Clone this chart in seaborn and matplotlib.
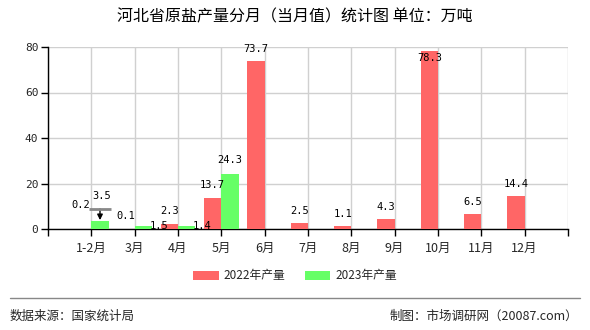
import numpy as np
import pandas as pd
import matplotlib
matplotlib.use("Agg")
import matplotlib.pyplot as plt
import seaborn as sns
from matplotlib.patches import Patch
from matplotlib.lines import Line2D

months = ["1-2月", "3月", "4月", "5月", "6月", "7月", "8月", "9月", "10月", "11月", "12月"]
vals_2022 = [0.2, 0.1, 2.3, 13.7, 73.7, 2.5, 1.1, 4.3, 78.3, 6.5, 14.4]
vals_2023 = [3.5, 1.5, 1.4, 24.3, None, None, None, None, None, None, None]
series = ["2022年产量", "2023年产量"]
colors = ["#FF6666", "#66FF66"]
yticks = [0, 20, 40, 60, 80]

title = "河北省原盐产量分月（当月值）统计图 单位：万吨"
source = "数据来源：国家统计局"
credit = "制图：市场调研网（20087.com）"

df = pd.DataFrame({
    "月份": months * 2,
    "产量": [np.nan if v is None else v for v in vals_2022 + vals_2023],
    "系列": [series[0]] * len(months) + [series[1]] * len(months),
})

sns.set_theme(style="white")
plt.rcParams["font.family"] = ["Noto Sans CJK SC", "DejaVu Sans"]

fig = plt.figure(figsize=(5.9, 3.3), dpi=100)
ax = fig.add_axes([48 / 590, 1 - 229 / 330, 520 / 590, 182 / 330])

sns.barplot(data=df, x="月份", y="产量", hue="系列", palette=colors,
            order=months, hue_order=series, width=0.8, ax=ax,
            saturation=1, legend=False, linewidth=0, zorder=3)

ax.set_xlim(-1, 11)
ax.set_ylim(0, 80)
ax.set_yticks(yticks)
ax.set_yticklabels([str(v) for v in yticks], family="DejaVu Sans Mono", fontsize=8)
ax.set_xticks(range(-1, 12))
ax.set_xticklabels([""] + months + [""], fontsize=9)
ax.set_xlabel("")
ax.set_ylabel("")
for s in ["top", "right"]:
    ax.spines[s].set_visible(False)
for s in ["left", "bottom"]:
    ax.spines[s].set_color("black")
    ax.spines[s].set_linewidth(1.0)
ax.tick_params(axis="both", which="both", direction="out", length=5, width=1,
               color="black", left=True, bottom=True, pad=2)
ax.tick_params(axis="x", pad=4)
ax.grid(True, color="#d0d0d0", linewidth=1, zorder=0)
ax.set_axisbelow(True)

# data labels (offsets in points)
label_offsets = {
    (0, 0): (-1.5, 17), (1, 0): (1.5, 18),
    (1, 1): (11, 0), (1, 2): (11, 0),
    (1, 3): (0, 10), (0, 8): (0, -5),
}
label_font = dict(family="DejaVu Sans Mono", fontsize=7.5, color="black")
for si, vals in enumerate([vals_2022, vals_2023]):
    for mi, v in enumerate(vals):
        if v is None:
            continue
        xc = mi - 0.2 + 0.4 * si
        dx, dy = label_offsets.get((si, mi), (0, 9))
        ax.annotate(f"{v:.1f}", (xc, v), xytext=(dx, dy), textcoords="offset points",
                    ha="center", va="center", **label_font, zorder=5)

# max marker on first 2023 value
xm = 0 + 0.2
top = vals_2023[0]
ax.annotate("", xy=(xm, top + 0.4), xytext=(xm, top + 5.3), xycoords="data",
            textcoords="data",
            arrowprops=dict(arrowstyle="-|>", color="black", lw=1, mutation_scale=8,
                            shrinkA=0, shrinkB=0), zorder=6)
ax.plot([xm - 0.25, xm + 0.25], [top + 5.3, top + 5.3],
        color="#888888", lw=2, zorder=6, solid_capstyle="butt")

fig.text(0.5, 1 - 17 / 330, title, ha="center", va="center", fontsize=11.5, color="black")

handles = [Patch(facecolor=c, edgecolor="none") for c in colors]
fig.legend(handles, series, loc="center", bbox_to_anchor=(0.5, 1 - 276 / 330), ncol=2,
           frameon=False, fontsize=8.5, handlelength=2.2, handleheight=0.8,
           columnspacing=1.6, handletextpad=0.4)

fig.add_artist(Line2D([10 / 590, 580 / 590], [1 - 298 / 330] * 2, color="#888888", lw=1))
fig.text(10 / 590, 1 - 316 / 330, source, ha="left", va="center", fontsize=9)
fig.text(578 / 590, 1 - 316 / 330, credit, ha="right", va="center", fontsize=9)

fig.savefig("out.png", dpi=100)
